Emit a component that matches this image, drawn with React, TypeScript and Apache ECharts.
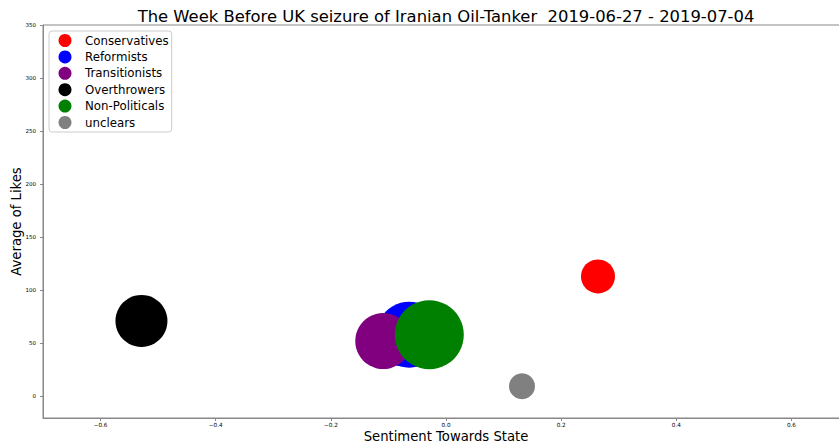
import React, { useEffect, useRef } from "react";
import * as echarts from "echarts";

const categories = ["Conservatives", "Reformists", "Transitionists", "Overthrowers", "Non-Politicals", "unclears"];
const colors = ["#ff0000", "#0000ff", "#800080", "#000000", "#008000", "#808080"];
const sentiment = [0.264, -0.064, -0.109, -0.529, -0.029, 0.132];
const avgLikes = [113, 58, 52, 71, 58, 9.5];
const markerArea = [1156, 4356, 3136, 2704, 4761, 676];
const xTicks = [-0.6, -0.4, -0.2, 0, 0.2, 0.4, 0.6];
const yTicks = [0, 50, 100, 150, 200, 250, 300, 350];
const titleText = "The Week Before UK seizure of Iranian Oil-Tanker  2019-06-27 - 2019-07-04";

const FONT = "DejaVu Sans";

export default function App() {
  const ref = useRef<HTMLDivElement>(null);
  useEffect(() => {
    document.body.style.margin = "0";
    const chart = echarts.init(ref.current!, null, { renderer: "svg" });
    const axisLineColor = "#888";
    chart.setOption({
      animation: false,
      backgroundColor: "#fff",
      grid: {
        left: 43,
        top: 25,
        right: -10,
        bottom: 30,
        containLabel: false,
        outerBoundsMode: "none",
        show: true,
        borderColor: axisLineColor,
        borderWidth: 1,
      },
      graphic: [
        {
          type: "text",
          x: 446,
          y: 16,
          style: {
            text: titleText,
            fontFamily: FONT,
            fontSize: 16.4,
            fill: "#000",
            align: "center",
            verticalAlign: "middle",
          },
        },
      ],
      legend: {
        orient: "vertical",
        left: 49,
        top: 31,
        padding: [3, 3, 3, 9.5],
        itemWidth: 30,
        itemHeight: 13,
        itemGap: 3.4,
        icon: "circle",
        borderColor: "#ccc",
        borderWidth: 1,
        borderRadius: 3,
        backgroundColor: "rgba(255,255,255,0.8)",
        textStyle: { fontFamily: FONT, fontSize: 11.8, color: "#000", padding: [0, 0, 0, 0] },
        data: categories,
      },
      xAxis: {
        type: "value",
        min: -0.7,
        max: 0.7,
        name: "Sentiment Towards State",
        nameLocation: "middle",
        nameGap: 12,
        nameMoveOverlap: false,
        nameTextStyle: { fontFamily: FONT, fontSize: 13.2, color: "#000", verticalAlign: "top" },
        axisLine: { show: true, onZero: false, lineStyle: { color: axisLineColor, width: 1 } },
        axisTick: { show: true, length: 3, lineStyle: { color: axisLineColor }, customValues: xTicks },
        axisLabel: {
          customValues: xTicks,
          margin: 3.5,
          fontFamily: FONT,
          fontSize: 5.7,
          color: "#000",
          formatter: (v: number) => v.toFixed(1).replace("-", "\u2212"),
        },
        splitLine: { show: false },
      },
      yAxis: {
        type: "value",
        min: -20.5,
        max: 350,
        name: "Average of Likes",
        nameLocation: "middle",
        nameGap: 20,
        nameMoveOverlap: false,
        nameRotate: 90,
        nameTextStyle: { fontFamily: FONT, fontSize: 13.2, color: "#000" },
        axisLine: { show: true, onZero: false, lineStyle: { color: axisLineColor, width: 1 } },
        axisTick: { show: true, length: 3, lineStyle: { color: axisLineColor }, customValues: yTicks },
        axisLabel: {
          customValues: yTicks,
          margin: 7,
          fontFamily: FONT,
          fontSize: 5.5,
          color: "#000",
          formatter: (v: number) => String(Math.round(v)),
        },
        splitLine: { show: false },
      },
      series: categories.map((name, i) => ({
        type: "scatter",
        name,
        itemStyle: { color: colors[i], opacity: 1 },
        symbol: "circle",
        symbolSize: (v: number[]) => Math.sqrt(v[2]),
        data: [[sentiment[i], avgLikes[i], markerArea[i]]],
        emphasis: { disabled: true },
      })),
    });
    return () => chart.dispose();
  }, []);
  return <div ref={ref} style={{ width: 839, height: 448 }} />;
}
